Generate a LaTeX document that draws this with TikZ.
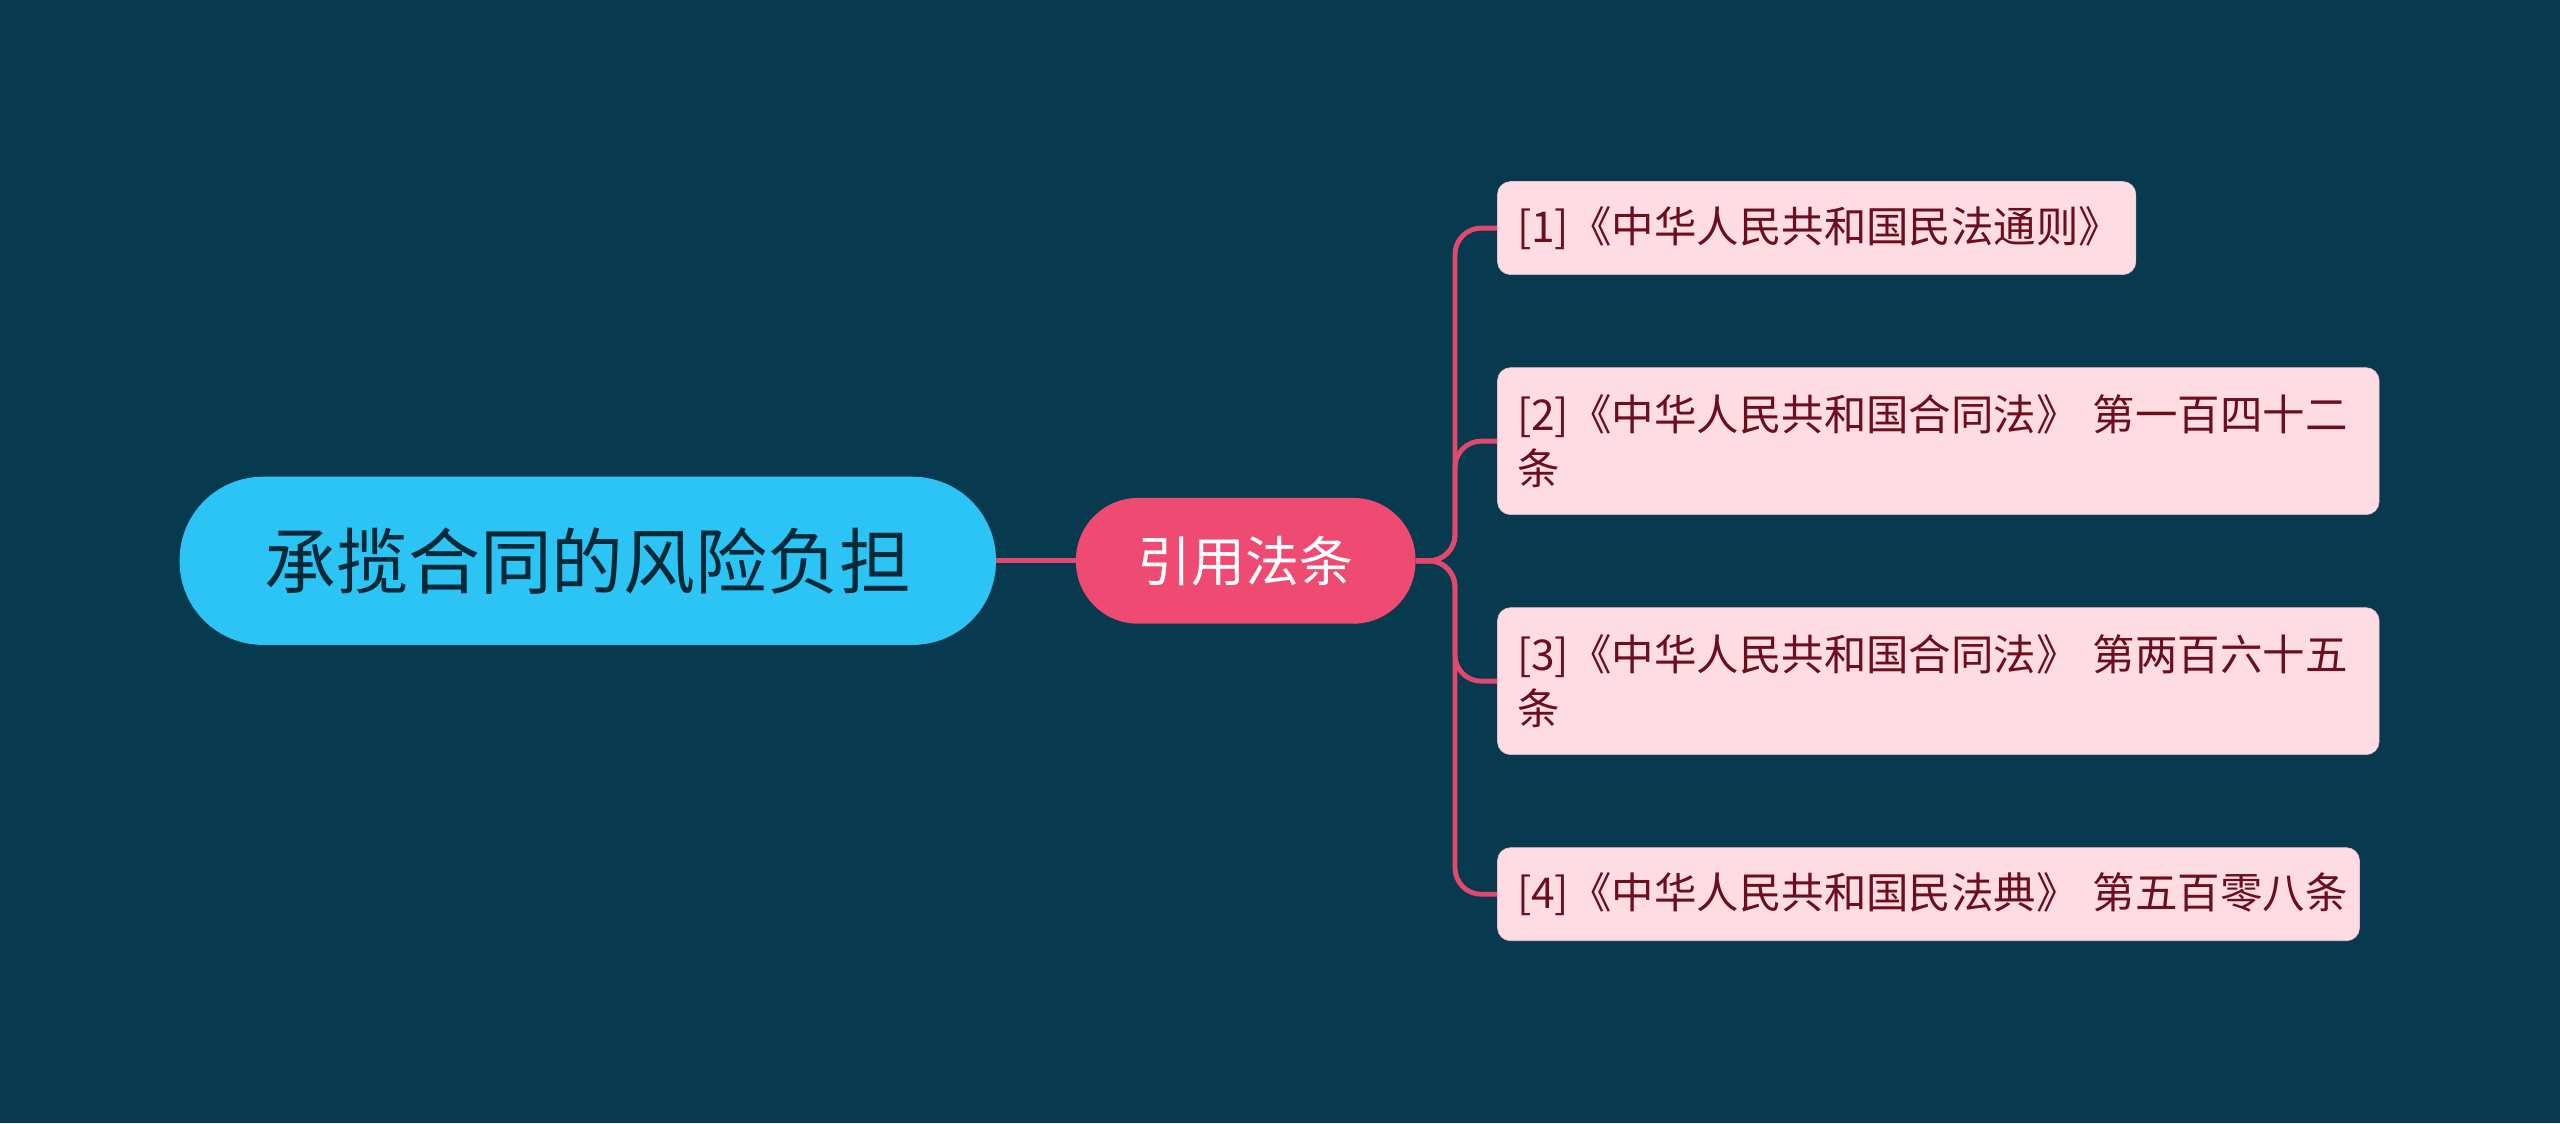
\documentclass[tikz,border=0pt]{standalone}
\usepackage{fontspec}
\setmainfont{Noto Sans CJK SC}
\definecolor{bg}{HTML}{073A4E}
\definecolor{rootc}{HTML}{2CC3F5}
\definecolor{midc}{HTML}{EF4A72}
\definecolor{leafc}{HTML}{FDDDE3}
\definecolor{leaft}{HTML}{6B0E1E}
\definecolor{linec}{HTML}{E0486E}
\begin{document}
\begin{tikzpicture}[x=1pt,y=-1pt,
 leaf/.style={fill=leafc,draw=linec!40,rounded corners=8pt,text=leaft,font=\fontsize{26}{33}\selectfont,align=left,anchor=north west,inner xsep=12pt,inner ysep=0pt},
 conn/.style={draw=linec,line width=3pt,rounded corners=16pt}]
\fill[bg] (0,0) rectangle (1568,688);
\useasboundingbox (0,0) rectangle (1568,688);
\node[fill=rootc,rounded corners=51pt,minimum width=500pt,minimum height=103pt,text=bg!70!black,font=\fontsize{44}{50}\selectfont] (root) at (360,343.5) {承揽合同的风险负担};
\node[fill=midc,rounded corners=38pt,minimum width=208pt,minimum height=77pt,text=white,font=\fontsize{33}{40}\selectfont] (mid) at (763,343.5) {引用法条};
\draw[conn] (root.east) -- (mid.west);
\node[leaf,minimum width=391pt,minimum height=57pt,text width=367pt] (l1) at (917,111) {[1]《中华人民共和国民法通则》};
\node[leaf,minimum width=540pt,minimum height=90pt,text width=516pt] (l2) at (917,225) {[2]《中华人民共和国合同法》 第一百四十二\\条};
\node[leaf,minimum width=540pt,minimum height=90pt,text width=516pt] (l3) at (917,372) {[3]《中华人民共和国合同法》 第两百六十五\\条};
\node[leaf,minimum width=528pt,minimum height=57pt,text width=504pt] (l4) at (917,519) {\mbox{[4]《中华人民共和国民法典》 第五百零八条}};
\foreach \l in {l1,l2,l3,l4} \draw[conn] (mid.east) -- ++(24,0) |- (\l.west);
\end{tikzpicture}
\end{document}
